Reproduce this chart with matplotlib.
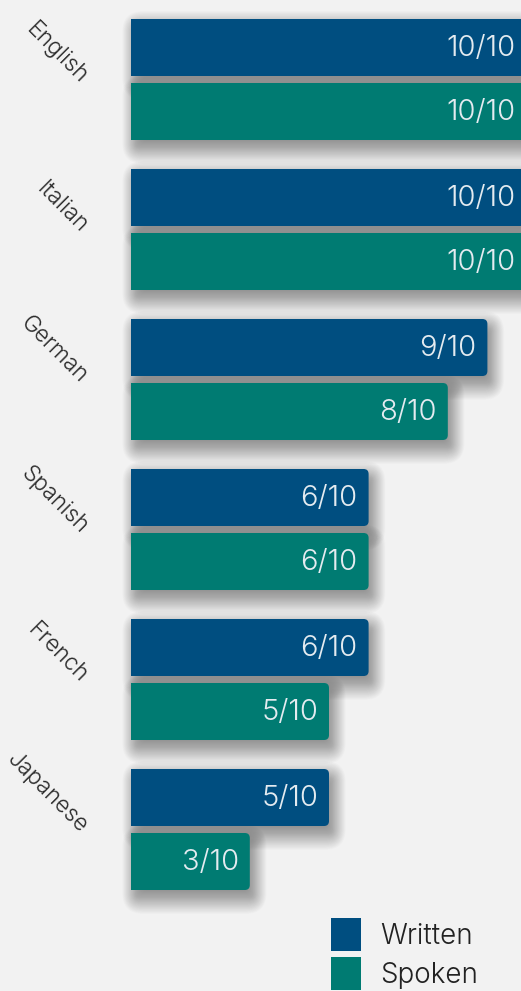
import numpy as np
import matplotlib.pyplot as plt
from matplotlib.patches import FancyBboxPatch, Rectangle, Patch

languages = ["English", "Italian", "German", "Spanish", "French", "Japanese"]
written = [10, 10, 9, 6, 6, 5]
spoken = [10, 10, 8, 6, 5, 3]
max_score = 10

c_written = "#004e80"
c_spoken = "#007b72"
bg = "#f2f2f2"

plt.rcParams['font.family'] = ['Inter', 'DejaVu Sans']

W, H = 521, 991
fig = plt.figure(figsize=(W / 100, H / 100), dpi=100, facecolor=bg)
ax = fig.add_axes([0, 0, 1, 1])
ax.set_facecolor(bg)

# x in score units (0 -> px 131, 1 unit = 39.6 px), y in pixels (top down)
px_unit = 39.6
x0 = 131
ax.set_xlim(-x0 / px_unit, (W - x0) / px_unit)
ax.set_ylim(H, 0)
ax.axis('off')

bar_h = 57
group_step = 150
top0 = 19
gap = 64
aspect = px_unit


def rounded_bar(y_top, value, color, z):
    r = 5 / px_unit
    box = FancyBboxPatch((0, y_top), value, bar_h,
                         boxstyle=f"round,pad=0,rounding_size={r}",
                         mutation_aspect=aspect, fc=color, ec='none', zorder=z)
    ax.add_patch(box)
    ax.add_patch(Rectangle((0, y_top), value / 2, bar_h, fc=color, ec='none', zorder=z))


def shadow(y_top, value):
    # soft blurred drop shadow: many thin translucent layers
    dx, dy = 4, 8
    for k in range(36):
        g = 16 - k * 0.7  # px, from wide/faint down to tight
        box = FancyBboxPatch(((dx - g * 0.8) / px_unit, y_top + dy - g),
                             value + 2 * g * 0.8 / px_unit, bar_h + 2 * g,
                             boxstyle=f"round,pad=0,rounding_size={(5 + max(g, 0)) / px_unit}",
                             mutation_aspect=aspect, fc='black', ec='none',
                             alpha=0.012, zorder=1)
        ax.add_patch(box)


for i, lang in enumerate(languages):
    top = top0 + group_step * i
    for j, vals in enumerate([written, spoken]):
        shadow(top + j * gap, vals[i])
    for j, (vals, col) in enumerate([(written, c_written), (spoken, c_spoken)]):
        yt = top + j * gap
        rounded_bar(yt, vals[i], col, 3 + j)
        ax.text(vals[i] - 11 / px_unit, yt + bar_h / 2 + 1, f"{vals[i]}/{max_score}",
                ha='right', va='center', color='#e4ebf0', fontsize=21,
                fontweight=300, zorder=6)
    ax.text(-47 / px_unit, top + 61, lang, rotation=-45, rotation_mode='anchor',
            ha='right', va='center', color='#2a2a2a', fontsize=16.5,
            fontweight=300)

handles = [Patch(fc=c_written, ec='none', label='Written'),
           Patch(fc=c_spoken, ec='none', label='Spoken')]
leg = ax.legend(handles=handles, loc='lower left', bbox_to_anchor=(330 / W, 0.0),
                frameon=False, fontsize=20, handlelength=1.08, handleheight=1.45,
                handletextpad=0.72, labelspacing=0.22, borderaxespad=0, borderpad=0.02)
for t in leg.get_texts():
    t.set_color('#222222')
    t.set_fontweight(300)

fig.savefig("out.png", dpi=100, facecolor=bg)
